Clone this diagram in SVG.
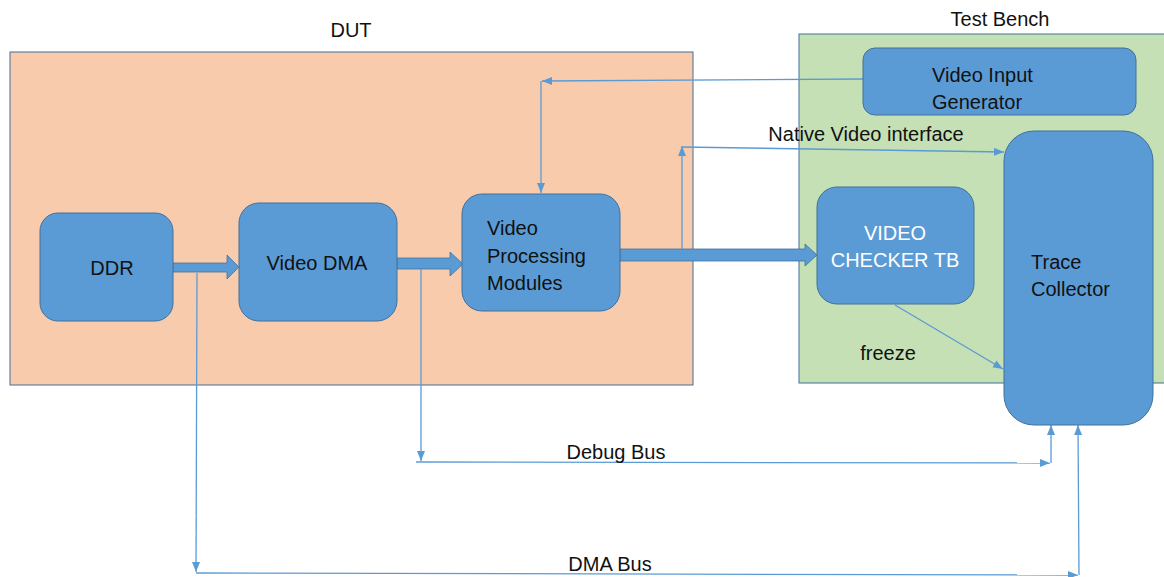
<svg xmlns="http://www.w3.org/2000/svg" width="1164" height="577" viewBox="0 0 1164 577">
<style>
  .box { fill: #5B9BD5; stroke: #41719C; stroke-width: 1; }
  .lbl { font-family: "Liberation Sans", Arial, sans-serif; font-size: 20px; fill: #111; }
  .wlbl { font-family: "Liberation Sans", Arial, sans-serif; font-size: 20px; fill: #fff; }
  .ln { fill: none; stroke: #5B9BD5; stroke-width: 1.3; }
  .blk { fill: #5B9BD5; stroke: #41719C; stroke-width: 0.8; }
</style>
<defs>
  <marker id="ah" markerUnits="userSpaceOnUse" markerWidth="10" markerHeight="10" viewBox="0 0 10 10" refX="10" refY="5" orient="auto">
    <path d="M0,1 L10,5 L0,9 Z" fill="#5B9BD5"/>
  </marker>
</defs>
<rect width="1164" height="577" fill="#fff"/>

<g id="dut">
  <rect x="10" y="52" width="683" height="333" fill="#F8CBAD" stroke="#41719C" stroke-width="1"/>
  <text class="lbl" x="351" y="37" text-anchor="middle">DUT</text>
</g>
<g id="testbench">
  <rect x="799" y="34" width="400" height="349" fill="#C5E0B4" stroke="#41719C" stroke-width="1"/>
  <text class="lbl" x="1000" y="26" text-anchor="middle" font-size="19">Test Bench</text>
</g>

<g id="connectors">
  <!-- block arrows -->
  <path class="blk" d="M173,263 L227,263 L227,255 L239,267 L227,279 L227,272 L173,272 Z"/>
  <path class="blk" d="M397,258 L450,258 L450,252 L463,264 L450,276 L450,269 L397,269 Z"/>
  <path class="blk" d="M620,249 L805,249 L805,244 L817,255 L805,266 L805,261 L620,261 Z"/>
  <!-- video input generator to VPM -->
  <polyline class="ln" points="863,79 542,81" marker-end="url(#ah)"/>
  <polyline class="ln" points="541,81 541,193" marker-end="url(#ah)"/>
  <!-- native video interface -->
  <polyline class="ln" points="682,249 682,146" marker-end="url(#ah)"/>
  <polyline class="ln" points="682,147 1004,152" marker-end="url(#ah)"/>
  <!-- checker to trace (freeze) -->
  <polyline class="ln" points="895,305 1003,369" marker-end="url(#ah)"/>
  <!-- debug bus -->
  <polyline class="ln" points="421,269 421,461" marker-end="url(#ah)"/>
  <polyline class="ln" points="416,462 1050,463" marker-end="url(#ah)"/>
  <polyline class="ln" points="1051,463 1051,425" marker-end="url(#ah)"/>
  <!-- DMA bus -->
  <polyline class="ln" points="197,273 196,572" marker-end="url(#ah)"/>
  <polyline class="ln" points="196,573 1078,575" marker-end="url(#ah)"/>
  <polyline class="ln" points="1079,575 1078,425" marker-end="url(#ah)"/>
  <text class="lbl" x="866" y="141" text-anchor="middle">Native Video interface</text>
  <text class="lbl" x="888" y="360" text-anchor="middle">freeze</text>
  <text class="lbl" x="616" y="459" text-anchor="middle">Debug Bus</text>
  <text class="lbl" x="610" y="571" text-anchor="middle">DMA Bus</text>
</g>

<g id="ddr">
  <rect class="box" x="40" y="213" width="133" height="108" rx="18"/>
  <text class="lbl" x="112" y="275" text-anchor="middle">DDR</text>
</g>
<g id="video-dma">
  <rect class="box" x="239" y="203" width="158" height="118" rx="20"/>
  <text class="lbl" x="317" y="270" text-anchor="middle">Video DMA</text>
</g>
<g id="vpm">
  <rect class="box" x="462" y="194" width="158" height="117" rx="20"/>
  <text class="lbl" x="487" y="235">Video</text>
  <text class="lbl" x="487" y="263">Processing</text>
  <text class="lbl" x="487" y="290">Modules</text>
</g>
<g id="video-input-generator">
  <rect class="box" x="863" y="48" width="273" height="67" rx="12"/>
  <text class="lbl" x="932" y="82">Video Input</text>
  <text class="lbl" x="932" y="109">Generator</text>
</g>
<g id="video-checker">
  <rect class="box" x="817" y="187" width="157" height="117" rx="20"/>
  <text class="wlbl" x="895" y="240" text-anchor="middle">VIDEO</text>
  <text class="wlbl" x="895" y="267" text-anchor="middle">CHECKER TB</text>
</g>
<g id="trace-collector">
  <rect class="box" x="1004" y="131" width="149" height="294" rx="30"/>
  <text class="lbl" x="1031" y="269">Trace</text>
  <text class="lbl" x="1031" y="296">Collector</text>
</g>
</svg>
